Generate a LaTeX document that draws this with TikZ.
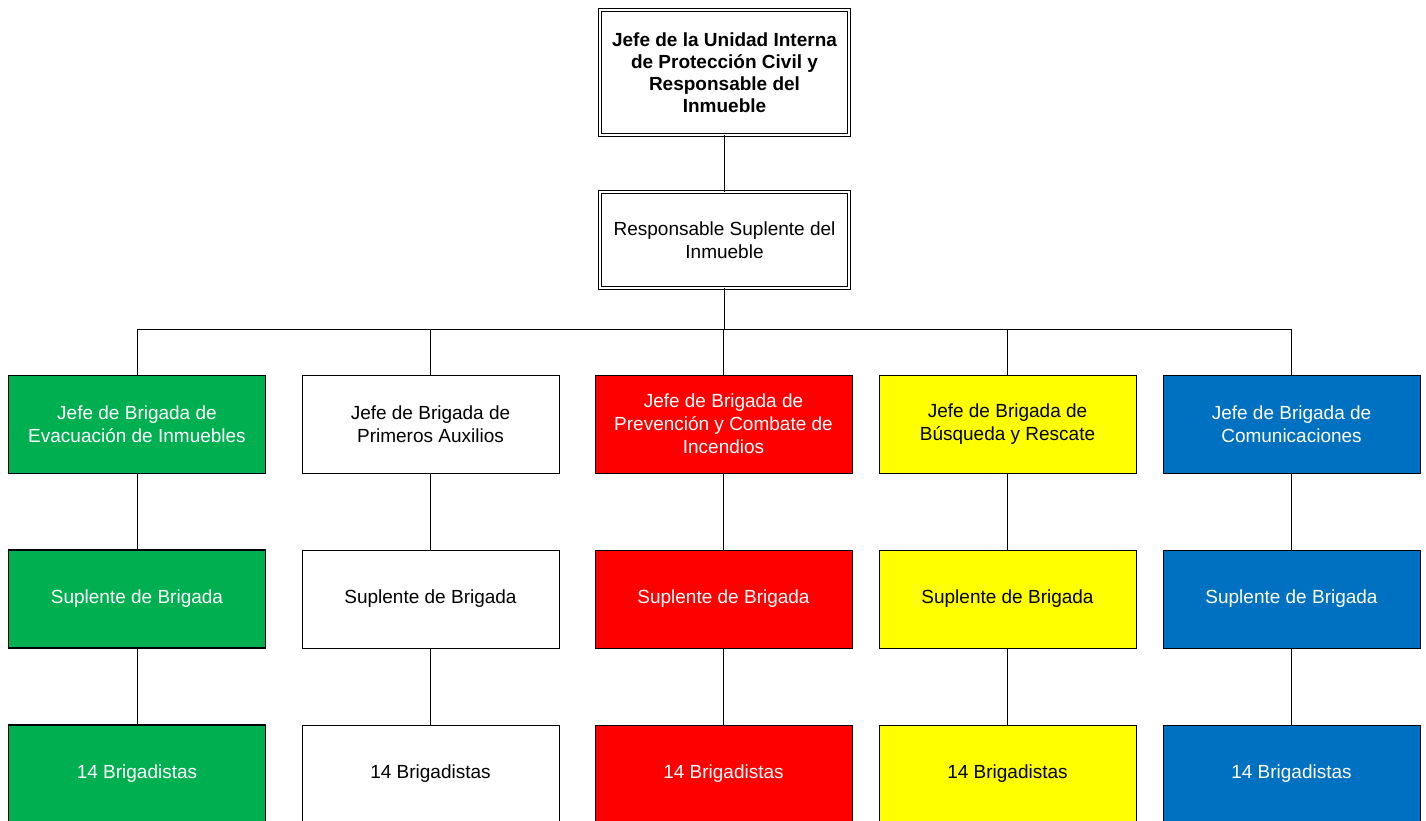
\documentclass[tikz,border=0pt]{standalone}
\usepackage{fontspec}
\setmainfont{Liberation Sans}
\definecolor{bgreen}{HTML}{00B050}
\definecolor{bred}{HTML}{FF0000}
\definecolor{byellow}{HTML}{FFFF00}
\definecolor{bblue}{HTML}{0070C0}
\tikzset{
  txt/.style={font=\fontsize{19}{23}\selectfont},
  topbox/.style={draw=black, double=white, double distance=2pt, line width=0.9pt,
    minimum width=249pt, align=center, inner sep=0pt, txt},
  box/.style={draw=black, line width=1pt, minimum width=257pt, minimum height=98pt,
    align=center, inner sep=0pt, txt},
  gbox/.style={box, fill=bgreen, text=white},
  gboxb/.style={gbox, line width=1.8pt},
  wbox/.style={box, fill=white, text=black},
  rbox/.style={box, fill=bred, text=white},
  ybox/.style={box, fill=byellow, text=black},
  bbox/.style={box, fill=bblue, text=white},
  conn/.style={draw=black, line width=1pt}
}
\begin{document}
\begin{tikzpicture}[x=1pt,y=-1pt]
\useasboundingbox (0,0) rectangle (1426,821);
\clip (0,0) rectangle (1426,821);
\fill[white] (0,0) rectangle (1426,821);

\node[topbox, minimum height=125pt, font=\fontsize{19}{22}\selectfont\bfseries] (jefe) at (724.5,72.5)
  {Jefe de la Unidad Interna\\de Protección Civil y\\Responsable del\\Inmueble};
\node[topbox, minimum height=96pt] (sup) at (724.5,240)
  {Responsable Suplente del\\Inmueble};

% level 1
\node[gbox] (j1) at (137,424) {Jefe de Brigada de\\Evacuación de Inmuebles};
\node[wbox] (j2) at (430.5,424) {Jefe de Brigada de\\Primeros Auxilios};
\node[rbox] (j3) at (723.5,424) {Jefe de Brigada de\\Prevención y Combate de\\Incendios};
\node[ybox] (j4) at (1007.5,424) {Jefe de Brigada de\\Búsqueda y Rescate};
\node[bbox] (j5) at (1291.5,424) {Jefe de Brigada de\\Comunicaciones};

% level 2
\node[gboxb] (s1) at (137,599) {Suplente de Brigada};
\node[wbox] (s2) at (430.5,599) {Suplente de Brigada};
\node[rbox] (s3) at (723.5,599) {Suplente de Brigada};
\node[ybox] (s4) at (1007.5,599) {Suplente de Brigada};
\node[bbox] (s5) at (1291.5,599) {Suplente de Brigada};

% level 3
\node[gboxb] (b1) at (137,774) {14 Brigadistas};
\node[wbox] (b2) at (430.5,774) {14 Brigadistas};
\node[rbox] (b3) at (723.5,774) {14 Brigadistas};
\node[ybox] (b4) at (1007.5,774) {14 Brigadistas};
\node[bbox] (b5) at (1291.5,774) {14 Brigadistas};

% connectors
\draw[conn] (jefe.south) -- (sup.north);
\draw[conn, line width=1.6pt] (sup.south) -- ++(0,41) coordinate (bus);
\draw[conn] (j1.north) |- (bus) -| (j5.north);
\draw[conn] (j2.north) -- (j2.north |- bus);
\draw[conn] (j3.north) -- (j3.north |- bus);
\draw[conn] (j4.north) -- (j4.north |- bus);
\foreach \i in {1,...,5} {
  \draw[conn] (j\i.south) -- (s\i.north);
  \draw[conn] (s\i.south) -- (b\i.north);
}
\end{tikzpicture}
\end{document}
